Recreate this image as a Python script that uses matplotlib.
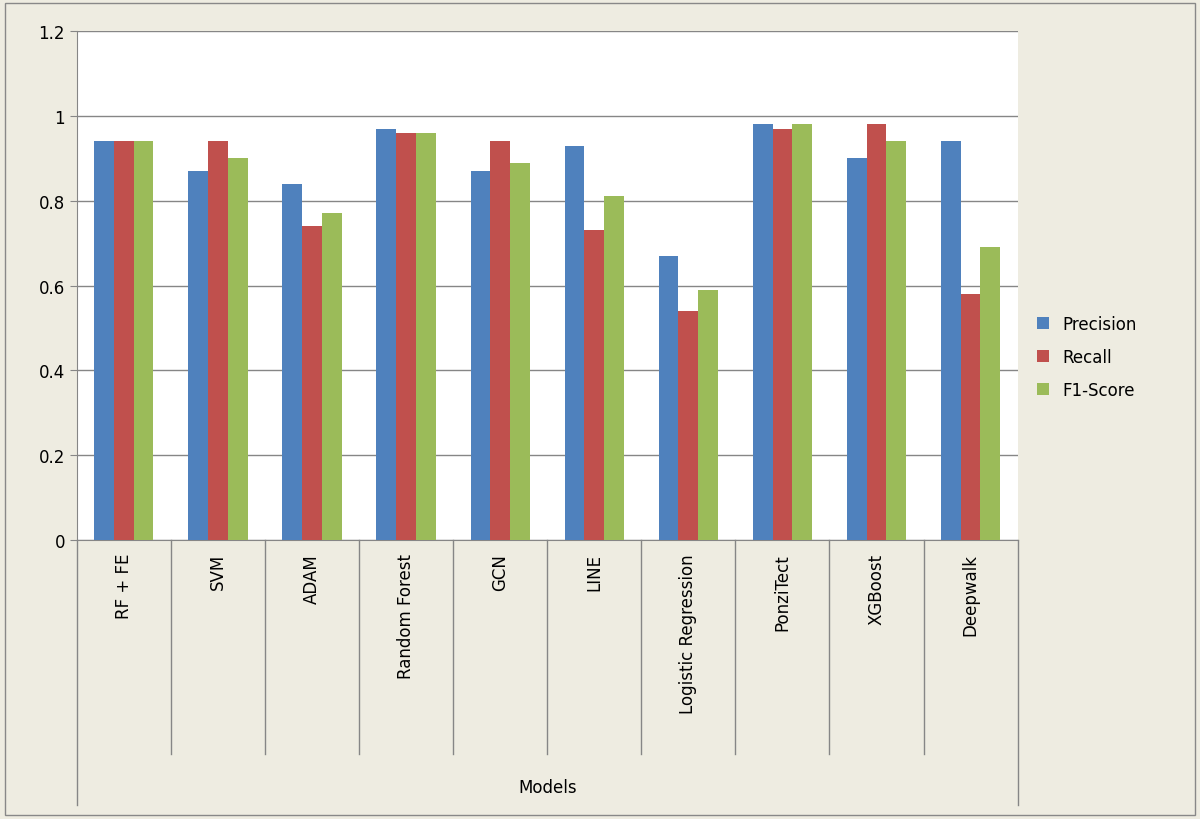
import matplotlib.pyplot as plt
import numpy as np
from matplotlib.patches import Rectangle

models = ['RF + FE', 'SVM', 'ADAM', 'Random Forest', 'GCN', 'LINE',
          'Logistic Regression', 'PonziTect', 'XGBoost', 'Deepwalk']
precision = [0.94, 0.87, 0.84, 0.97, 0.87, 0.93, 0.67, 0.98, 0.90, 0.94]
recall = [0.94, 0.94, 0.74, 0.96, 0.94, 0.73, 0.54, 0.97, 0.98, 0.58]
f1 = [0.94, 0.90, 0.77, 0.96, 0.89, 0.81, 0.59, 0.98, 0.94, 0.69]

colors = ['#4F81BD', '#C0504D', '#9BBB59']
bg = '#EEECE1'

fig = plt.figure(figsize=(12, 8.2), dpi=100, facecolor=bg)
fig.patches.append(Rectangle((0.004, 0.005), 0.992, 0.99, transform=fig.transFigure,
                             fill=False, edgecolor='#888888', linewidth=1))
ax = fig.add_axes([0.064, 0.340, 0.784, 0.621])
ax.set_facecolor('white')

x = np.arange(len(models))
w = 0.21
ax.bar(x - w, precision, w, color=colors[0], label='Precision', zorder=3)
ax.bar(x, recall, w, color=colors[1], label='Recall', zorder=3)
ax.bar(x + w, f1, w, color=colors[2], label='F1-Score', zorder=3)

ax.set_xlim(-0.5, len(models) - 0.5)
ax.set_ylim(0, 1.2)
ax.set_yticks(np.arange(0, 1.21, 0.2))
ax.set_yticklabels(['0', '0.2', '0.4', '0.6', '0.8', '1', '1.2'], fontsize=12)
ax.yaxis.grid(True, color='#868686', linewidth=1, zorder=0)
for s in ['top', 'right']:
    ax.spines[s].set_visible(False)
ax.spines['left'].set_color('#868686')
ax.spines['bottom'].set_color('#868686')
ax.tick_params(axis='y', length=5, color='#868686', direction='out')

ax.set_xticks([])
trans = ax.get_xaxis_transform()
for i, m in enumerate(models):
    ax.text(i, -0.025, m, rotation=90, ha='center', va='top', fontsize=12,
            transform=trans)
for b in np.arange(0.5, len(models) - 0.5, 1):
    ax.plot([b, b], [0, -0.42], color='#868686', lw=1, transform=trans, clip_on=False)
for b in [-0.5, len(models) - 0.5]:
    ax.plot([b, b], [0, -0.52], color='#868686', lw=1, transform=trans, clip_on=False)
ax.text((len(models) - 1) / 2, -0.485, 'Models', ha='center', va='center',
        fontsize=12, transform=trans)

ax.legend(loc='center left', bbox_to_anchor=(1.005, 0.36), frameon=False,
          fontsize=12, handlelength=0.7, handleheight=0.7, labelspacing=0.9)

fig.savefig('out.png', dpi=100, facecolor=bg)
